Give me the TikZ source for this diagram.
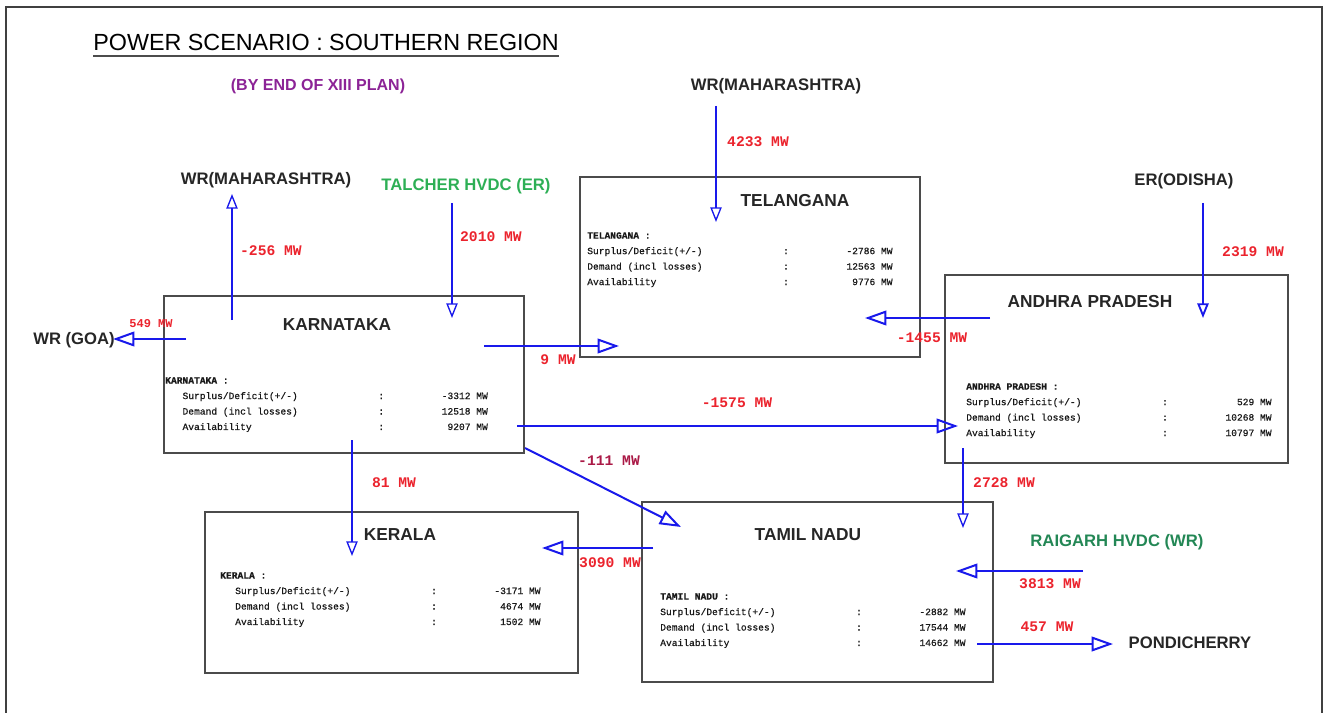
\documentclass[tikz,border=0pt]{standalone}
\usepackage{fontspec}
\setmainfont{Liberation Sans}
\setmonofont{Liberation Mono}
\newfontfamily\datafont[FakeBold=0.6]{Liberation Mono}
\definecolor{flowblue}{RGB}{25,25,235}
\definecolor{mwred}{RGB}{235,35,45}
\definecolor{mwcrimson}{RGB}{170,25,70}
\definecolor{hvdcgreen}{RGB}{45,175,85}
\definecolor{hvdcdark}{RGB}{35,135,85}
\definecolor{planpurple}{RGB}{140,35,150}
\definecolor{boxgray}{RGB}{75,75,75}
\usetikzlibrary{arrows.meta,positioning,fit}

% width of one typewriter character in the data tables
\newlength{\chw}
\setlength{\chw}{4.32pt}
\newcommand{\datarow}[2]{\makebox[34\chw][l]{#1}\makebox[\chw][l]{:}\makebox[18\chw][r]{#2}}
\newcommand{\statedata}[5]{%
  \textbf{#2 :}\\
  \hspace*{#1}\datarow{Surplus/Deficit(+/-)}{#3}\\
  \hspace*{#1}\datarow{Demand (incl losses)}{#4}\\
  \hspace*{#1}\datarow{Availability}{#5}}

\begin{document}
\begin{tikzpicture}[x=0.75pt, y=-0.75pt,
    statebox/.style={draw=boxgray, line width=1.2pt, inner sep=0pt},
    boxtitle/.style={font=\bfseries\fontsize{13}{15}\selectfont, text=black!85, inner sep=1pt},
    region/.style={font=\bfseries\fontsize{12.5}{15}\selectfont, text=black!85, inner sep=1pt},
    datatext/.style={font=\datafont\fontsize{7.2}{11.6}\selectfont, text=black!90, align=left, anchor=north west, inner sep=0pt},
    mw/.style={font=\ttfamily\bfseries\fontsize{11}{12}\selectfont, text=mwred, inner sep=0pt},
    flow/.style={draw=flowblue, line width=1pt, -{Triangle[open, length=11pt, width=8.5pt]}},
    bigflow/.style={draw=flowblue, line width=1.5pt, -{Triangle[open, length=16pt, width=11pt]}}]

    \useasboundingbox (0,0) rectangle (1329,713);

    % Frame
    \draw[black!75, line width=1.1pt] (6,713) -- (6,7) -- (1322,7) -- (1322,713);

    % Heading
    \node[font=\fontsize{17.5}{20}\selectfont, inner xsep=0pt, inner ysep=4pt] (title) at (326,42) {POWER SCENARIO : SOUTHERN REGION};
    \draw[black!70, line width=1.1pt] (title.south west) -- (title.south east);
    \node[font=\bfseries\fontsize{12}{14}\selectfont, text=planpurple] (plan) at (318,86) {(BY END OF XIII PLAN)};

    % State boxes
    \node[statebox, fit={(164,296) (524,453)}] (kar) {};
    \node[statebox, fit={(580,177) (920,357)}] (tel) {};
    \node[statebox, fit={(945,275) (1288,463)}] (ap) {};
    \node[statebox, fit={(205,512) (578,673)}] (ker) {};
    \node[statebox, fit={(642,502) (993,682)}] (tn) {};

    \node[boxtitle] (kar-title) at (337,325) {KARNATAKA};
    \node[boxtitle] (tel-title) at (795,201) {TELANGANA};
    \node[boxtitle] (ap-title) at (1090,302) {ANDHRA PRADESH};
    \node[boxtitle] (ker-title) at (400,535) {KERALA};
    \node[boxtitle] (tn-title) at (808,535) {TAMIL NADU};

    \node[datatext] (kar-data) at (165,377) {\statedata{3\chw}{KARNATAKA}{-3312 MW}{12518 MW}{9207 MW}};
    \node[datatext] (tel-data) at (587,232) {\statedata{0pt}{TELANGANA}{-2786 MW}{12563 MW}{9776 MW}};
    \node[datatext] (ap-data) at (966,383) {\statedata{0pt}{ANDHRA PRADESH}{529 MW}{10268 MW}{10797 MW}};
    \node[datatext] (ker-data) at (220,572) {\statedata{2.6\chw}{KERALA}{-3171 MW}{4674 MW}{1502 MW}};
    \node[datatext] (tn-data) at (660,593) {\statedata{0pt}{TAMIL NADU}{-2882 MW}{17544 MW}{14662 MW}};

    % Neighbouring regions
    \node[region] (wrm-left) at (266,180) {WR(MAHARASHTRA)};
    \node[region, text=hvdcgreen] (talcher) at (466,186) {TALCHER HVDC (ER)};
    \node[region] (wrm-top) at (776,86) {WR(MAHARASHTRA)};
    \node[region] (odisha) at (1184,181) {ER(ODISHA)};
    \node[region] (goa) at (74,340) {WR (GOA)};
    \node[region, text=hvdcdark] (raigarh) at (1117,542) {RAIGARH HVDC (WR)};
    \node[region] (pondy) at (1190,643) {PONDICHERRY};

    % Arrow ends
    \coordinate (kar-n) at (232,320);
    \coordinate (wrm-foot) at (232,194);
    \coordinate (tal-foot) at (452,203);
    \coordinate (kar-tip) at (452,318);
    \coordinate (kar-w) at (186,339);
    \coordinate (goa-e) at (113,339);
    \coordinate (kar-e) at (484,346);
    \coordinate (tel-w) at (619,346);
    \coordinate (top-foot) at (716,106);
    \coordinate (tel-tip) at (716,222);
    \coordinate (ap-w) at (990,318);
    \coordinate (tel-e) at (865,318);
    \coordinate (odi-foot) at (1203,203);
    \coordinate (ap-tip) at (1203,318);
    \coordinate (kar-se) at (517,426);
    \coordinate (ap-in) at (958,426);
    \coordinate (kar-d) at (525,448);
    \coordinate (tn-nw) at (681,527);
    \coordinate (kar-s) at (352,440);
    \coordinate (ker-tip) at (352,556);
    \coordinate (ap-s) at (963,448);
    \coordinate (tn-ne) at (963,528);
    \coordinate (tn-w) at (653,548);
    \coordinate (ker-e) at (542,548);
    \coordinate (rai-w) at (1083,571);
    \coordinate (tn-e) at (956,571);
    \coordinate (tn-se) at (977,644);
    \coordinate (pon-w) at (1113,644);

    % Flows
    \draw[flow] (kar-n) -- (wrm-foot);
    \draw[flow] (tal-foot) -- (kar-tip);
    \draw[bigflow] (kar-w) -- (goa-e);
    \draw[bigflow] (kar-e) -- (tel-w);
    \draw[flow] (top-foot) -- (tel-tip);
    \draw[bigflow] (ap-w) -- (tel-e);
    \draw[flow, line width=1.4pt] (odi-foot) -- (ap-tip);
    \draw[bigflow] (kar-se) -- (ap-in);
    \draw[bigflow] (kar-d) -- (tn-nw);
    \draw[flow] (kar-s) -- (ker-tip);
    \draw[flow] (ap-s) -- (tn-ne);
    \draw[bigflow] (tn-w) -- (ker-e);
    \draw[bigflow] (rai-w) -- (tn-e);
    \draw[bigflow] (tn-se) -- (pon-w);

    % Flow values
    \node[mw] (mw-wrm) at (271,251) {-256 MW};
    \node[mw] (mw-tal) at (491,237) {2010 MW};
    \node[mw, font=\ttfamily\bfseries\fontsize{9}{10}\selectfont] (mw-goa) at (151,324) {549 MW};
    \node[mw] (mw-tel) at (558,360) {9 MW};
    \node[mw] (mw-top) at (758,142) {4233 MW};
    \node[mw] (mw-ap-tel) at (932,338) {-1455 MW};
    \node[mw] (mw-odi) at (1253,252) {2319 MW};
    \node[mw] (mw-ap) at (737,403) {-1575 MW};
    \node[mw, text=mwcrimson] (mw-tn) at (609,461) {-111 MW};
    \node[mw] (mw-ker) at (394,483) {81 MW};
    \node[mw] (mw-ap-tn) at (1004,483) {2728 MW};
    \node[mw] (mw-tn-ker) at (610,563) {3090 MW};
    \node[mw] (mw-rai) at (1050,584) {3813 MW};
    \node[mw] (mw-pon) at (1047,627) {457 MW};
\end{tikzpicture}
\end{document}
